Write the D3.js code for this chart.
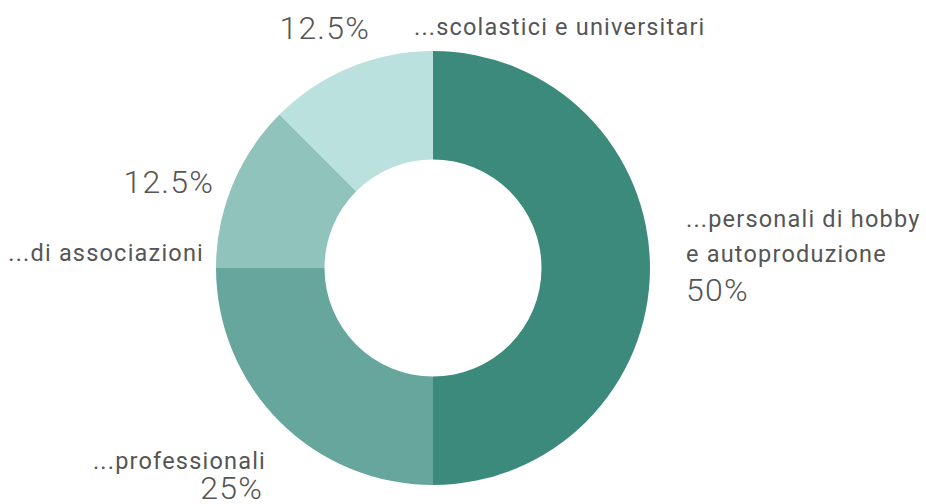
<!DOCTYPE html>
<html>
<head>
<meta charset="utf-8">
<script src="https://cdn.jsdelivr.net/npm/d3@7"></script>
<style>
html,body{margin:0;padding:0;background:#fff;}
svg{display:block;}
text{font-family:Roboto,"Noto Sans",sans-serif;fill:#555;}
</style>
</head>
<body>
<svg id="chart" width="926" height="504"></svg>
<script>
const categories = ["...personali di hobby e autoproduzione", "...professionali", "...di associazioni", "...scolastici e universitari"];
const values = [50, 25, 12.5, 12.5];
const colors = ["#3c8a7b", "#66a69c", "#91c3bd", "#bbe1de"];

const W = 926, H = 504;
const cx = 433, cy = 268, R = 217, r0 = 108.5;
const svg = d3.select("#chart");
const g = svg.append("g").attr("transform", `translate(${cx},${cy})`);

const pie = d3.pie().sort(null).value(d => d.v);
const data = categories.map((c, i) => ({c, v: values[i], col: colors[i]}));
const arcs = pie(data);
const arc = d3.arc().innerRadius(r0).outerRadius(R);

g.selectAll("path").data(arcs).enter().append("path")
  .attr("d", arc).attr("fill", d => d.data.col);

const fmt = v => (v % 1 === 0 ? v.toFixed(0) : v.toFixed(1)) + "%";
const nameSize = 23.5, pctSize = 32;
const nameLS = 1.2, pctLS = 1.2;

// label layout: [text|null(pct), size, weight, dx, dy, anchor]
const layout = [
  [["...personali di hobby", nameSize, 400, 253, -41, "start"], ["e autoproduzione", nameSize, 400, 253, -6, "start"], [null, pctSize, 300, 253, 33, "start"]],
  [["...professionali", nameSize, 400, -167, 201, "end"], [null, pctSize, 300, -170, 231, "end"]],
  [[null, pctSize, 300, -219, -75, "end"], ["...di associazioni", nameSize, 400, -229, -7, "end"]],
  [[null, pctSize, 300, -63, -229, "end"], ["...scolastici e universitari", nameSize, 400, -19, -233, "start"]]
];

arcs.forEach((a, i) => {
  layout[i].forEach(ln => {
    const isPct = ln[0] === null;
    g.append("text")
      .attr("x", ln[3]).attr("y", ln[4])
      .attr("text-anchor", ln[5])
      .style("font-size", ln[1] + "px")
      .style("font-weight", ln[2])
      .style("letter-spacing", (isPct ? pctLS : nameLS) + "px")
      .text(isPct ? fmt(a.data.v) : ln[0]);
  });
});
</script>
</body>
</html>
